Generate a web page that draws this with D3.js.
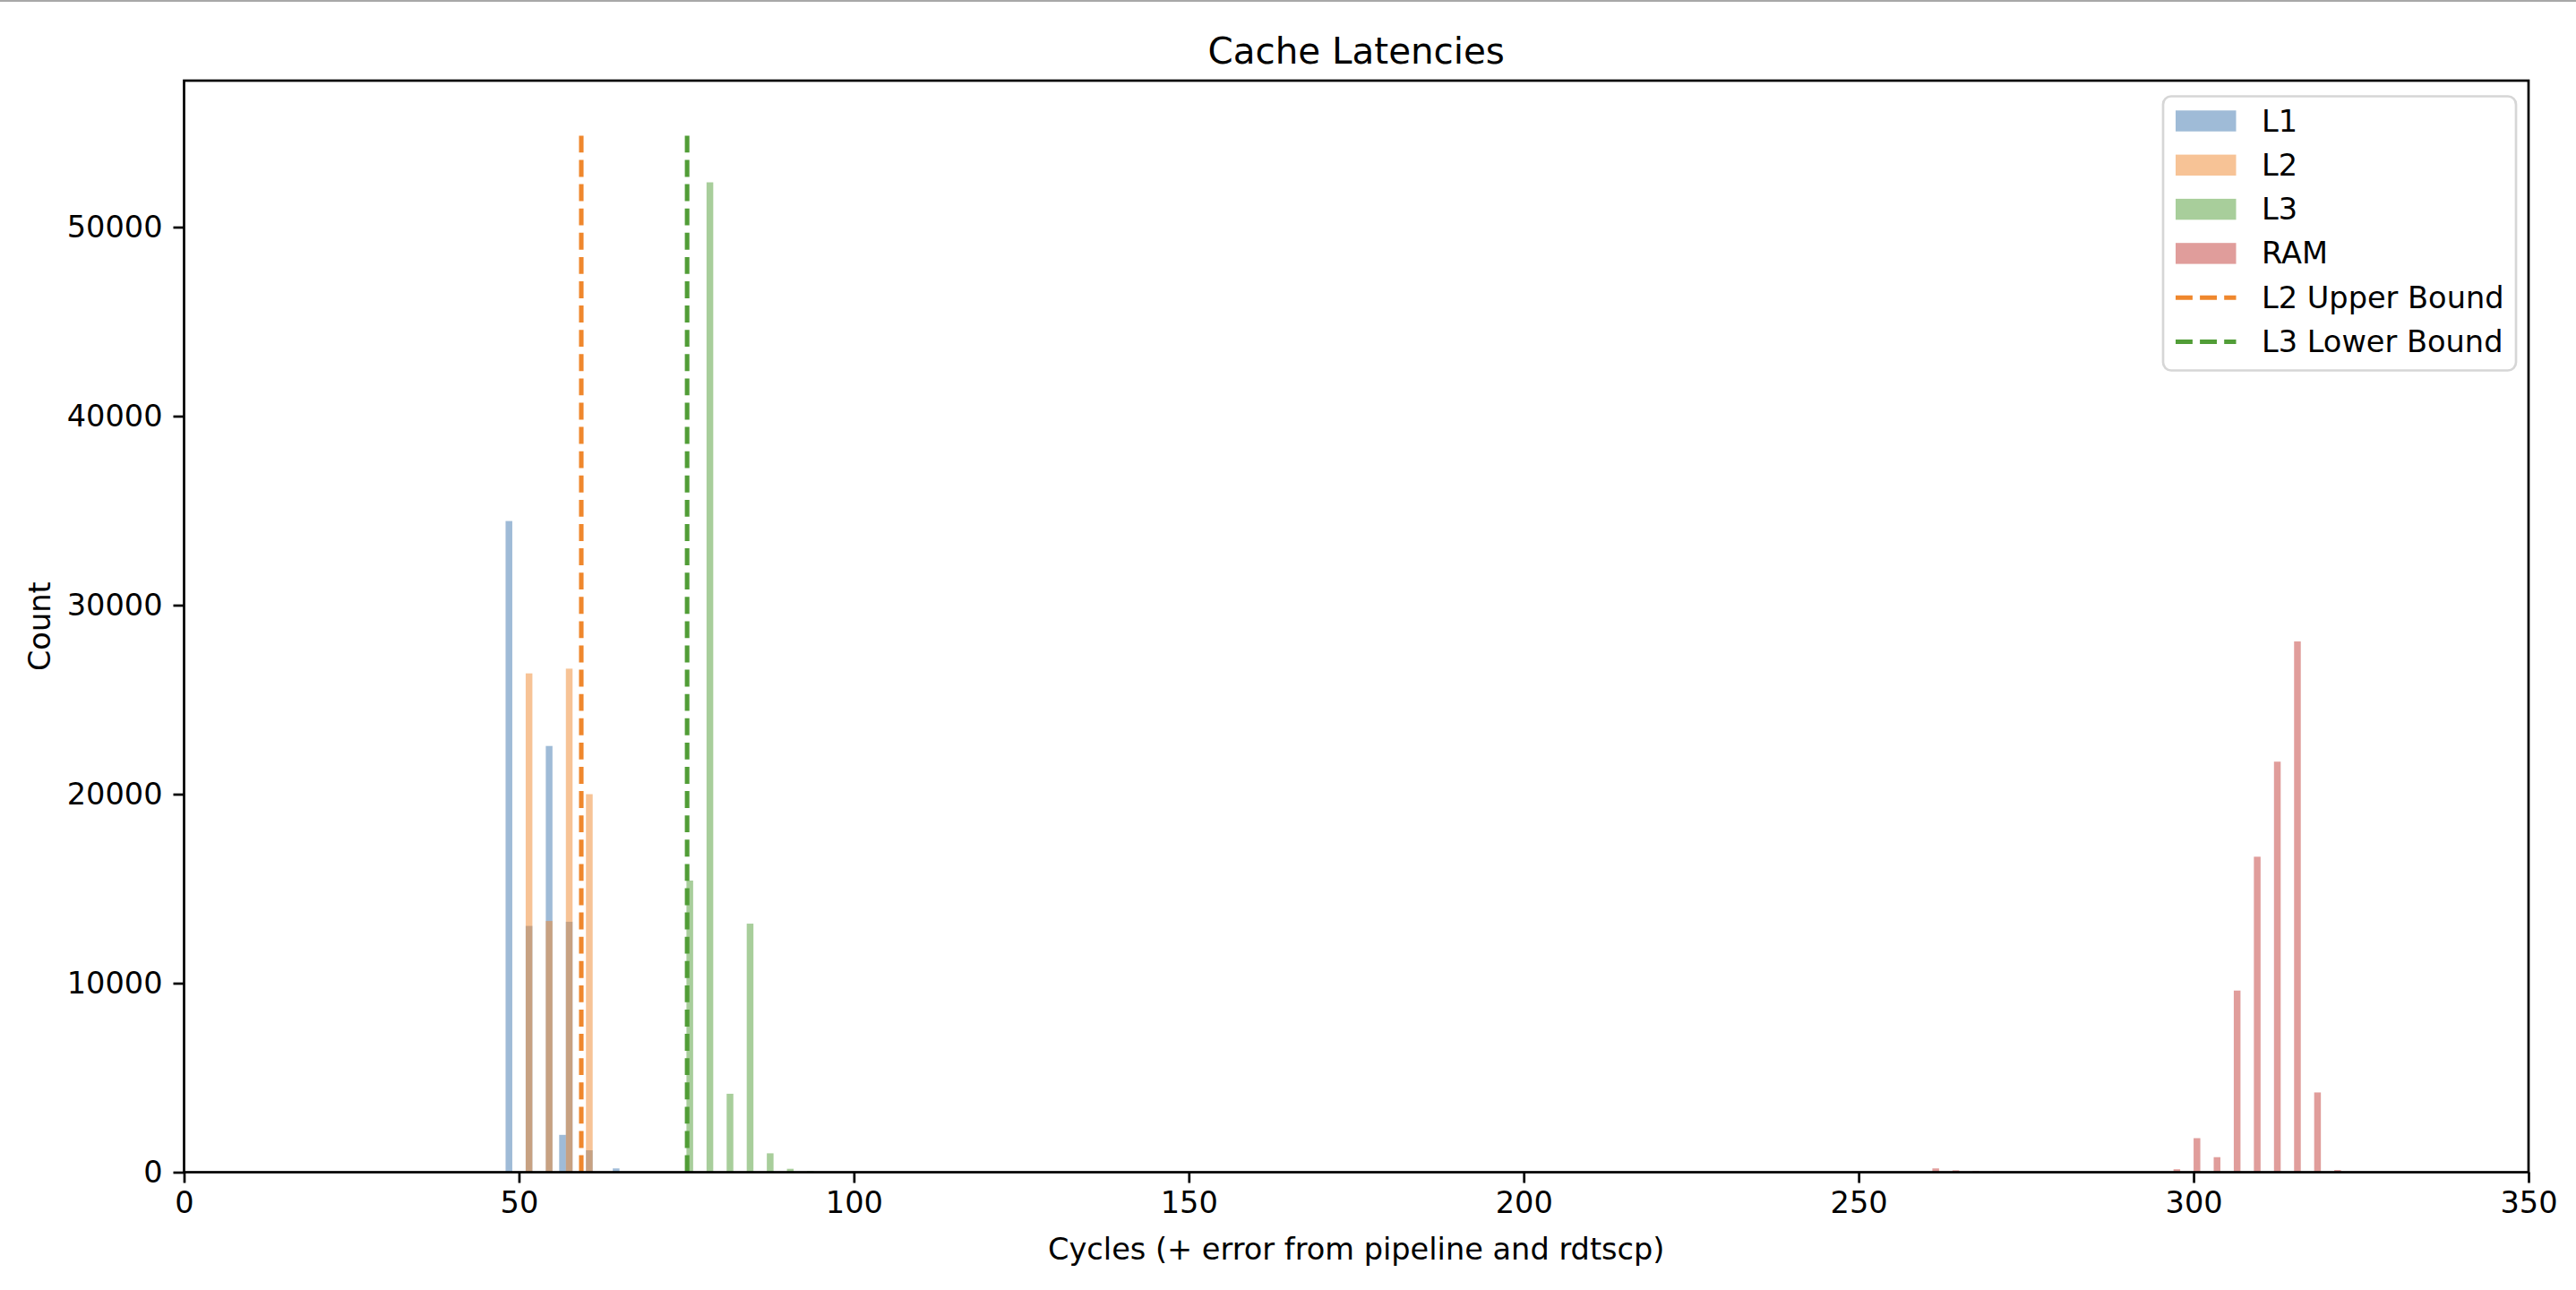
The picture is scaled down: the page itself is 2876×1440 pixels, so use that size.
<!DOCTYPE html>
<html>
<head>
<meta charset="utf-8">
<script src="https://cdn.jsdelivr.net/npm/d3@7"></script>
<style>
  html, body { margin: 0; padding: 0; background: #fff; }
  svg { display: block; }
  text { font-family: "DejaVu Sans", sans-serif; fill: #000; }
</style>
</head>
<body>
<svg id="chart" width="2876" height="1440"></svg>
<script>
// ---- data ----
const seriesNames = ["L1", "L2", "L3", "RAM"];
const l1Bins   = [48, 51, 54, 56, 57, 60, 64];
const l1Counts = [34450, 13030, 22550, 1975, 13250, 1160, 200];
const l2Bins   = [51, 54, 57, 60];
const l2Counts = [26390, 13290, 26640, 20000];
const l3Bins   = [75, 78, 81, 84, 87, 90, 93];
const l3Counts = [15430, 52370, 4150, 13150, 1000, 180, 60];
const ramBins   = [261, 264, 267, 270, 297, 300, 303, 306, 309, 312, 315, 318, 321];
const ramCounts = [200, 100, 60, 40, 155, 1800, 795, 9610, 16690, 21720, 28080, 4220, 115];
const binWidth = 1;
const boundNames  = ["L2 Upper Bound", "L3 Lower Bound"];
const boundValues = [59.3, 75.1];
const boundTop = 55000;
const xTicks = [0, 50, 100, 150, 200, 250, 300, 350];
const yTicks = [0, 10000, 20000, 30000, 40000, 50000];
const xDomain = [0, 350];
const yDomain = [0, 57750];

// ---- styles ----
const fillColors  = ["#3f77af", "#ef872d", "#519d37", "#c13b37"];
const boundColors = ["#ef872d", "#519d37"];
const fillOpacity = 0.5;
const baseFont = 33.6;

const svg = d3.select("#chart");
const W = 2876, H = 1440;
const M = { left: 205.5, right: 2823, top: 90, bottom: 1308.5 };

// top grey border line of the screenshot
svg.append("rect").attr("x", 0).attr("y", 0).attr("width", W).attr("height", 2).attr("fill", "#a8a8a8");

const x = d3.scaleLinear().domain(xDomain).range([M.left, M.right]);
const y = d3.scaleLinear().domain(yDomain).range([M.bottom, M.top]);

const plot = svg.append("g");

const series = [
  { name: seriesNames[0], bins: l1Bins, counts: l1Counts },
  { name: seriesNames[1], bins: l2Bins, counts: l2Counts },
  { name: seriesNames[2], bins: l3Bins, counts: l3Counts },
  { name: seriesNames[3], bins: ramBins, counts: ramCounts }
];

series.forEach((s, i) => {
  const data = s.bins.map((b, j) => ({ b, c: s.counts[j] }));
  plot.append("g").selectAll("rect").data(data).join("rect")
    .attr("x", d => x(d.b))
    .attr("width", d => x(d.b + binWidth) - x(d.b))
    .attr("y", d => y(d.c))
    .attr("height", d => y(0) - y(d.c))
    .attr("fill", fillColors[i])
    .attr("fill-opacity", fillOpacity);
});

// bound lines
boundValues.forEach((v, i) => {
  plot.append("line")
    .attr("x1", x(v)).attr("x2", x(v))
    .attr("y1", y(0)).attr("y2", y(boundTop))
    .attr("stroke", boundColors[i])
    .attr("stroke-width", 5.1)
    .attr("stroke-dasharray", "18.9,8.2");
});

// axes
const xAxis = d3.axisBottom(x).tickValues(xTicks).tickSize(12).tickPadding(10).tickFormat(d3.format("d"));
const yAxis = d3.axisLeft(y).tickValues(yTicks).tickSize(12).tickPadding(12).tickFormat(d3.format("d"));

const gx = svg.append("g").attr("transform", `translate(0,${M.bottom})`).call(xAxis);
const gy = svg.append("g").attr("transform", `translate(${M.left},0)`).call(yAxis);
[gx, gy].forEach(g => {
  g.select(".domain").remove();
  g.selectAll(".tick line").attr("stroke", "#000").attr("stroke-width", 2.7);
  g.selectAll(".tick text").attr("font-size", baseFont).attr("font-family", "DejaVu Sans").attr("fill", "#000");
});

// spines
svg.append("rect")
  .attr("x", M.left).attr("y", M.top)
  .attr("width", M.right - M.left).attr("height", M.bottom - M.top)
  .attr("fill", "none").attr("stroke", "#000").attr("stroke-width", 2.7);

// title & labels
svg.append("text").attr("x", (M.left + M.right) / 2).attr("y", 57)
  .attr("text-anchor", "middle").attr("dominant-baseline", "central")
  .attr("font-size", 40.4).text("Cache Latencies");
svg.append("text").attr("x", (M.left + M.right) / 2).attr("y", 1394)
  .attr("text-anchor", "middle").attr("dominant-baseline", "central")
  .attr("font-size", baseFont).text("Cycles (+ error from pipeline and rdtscp)");
svg.append("text")
  .attr("transform", `translate(44,${(M.top + M.bottom) / 2}) rotate(-90)`)
  .attr("text-anchor", "middle").attr("dominant-baseline", "central")
  .attr("font-size", baseFont).text("Count");

// legend
const lg = svg.append("g");
lg.append("rect").attr("x", 2415).attr("y", 107.5).attr("width", 394).attr("height", 306)
  .attr("rx", 9).attr("ry", 9)
  .attr("fill", "#fff").attr("fill-opacity", 0.8)
  .attr("stroke", "#d6d6d6").attr("stroke-width", 2.7);

const legendItems = seriesNames.map((n, i) => ({ n, type: "patch", color: fillColors[i] }))
  .concat(boundNames.map((n, i) => ({ n, type: "line", color: boundColors[i] })));
const rowY0 = 135, rowStep = 49.3;
legendItems.forEach((it, i) => {
  const cy = rowY0 + i * rowStep;
  if (it.type === "patch") {
    lg.append("rect").attr("x", 2429).attr("y", cy - 11.7).attr("width", 67.5).attr("height", 23.4)
      .attr("fill", it.color).attr("fill-opacity", fillOpacity);
  } else {
    lg.append("line").attr("x1", 2429).attr("x2", 2496.5).attr("y1", cy).attr("y2", cy)
      .attr("stroke", it.color).attr("stroke-width", 5.1).attr("stroke-dasharray", "18.9,8.2");
  }
  lg.append("text").attr("x", 2525).attr("y", cy)
    .attr("dominant-baseline", "central").attr("font-size", baseFont).text(it.n);
});
</script>
</body>
</html>
